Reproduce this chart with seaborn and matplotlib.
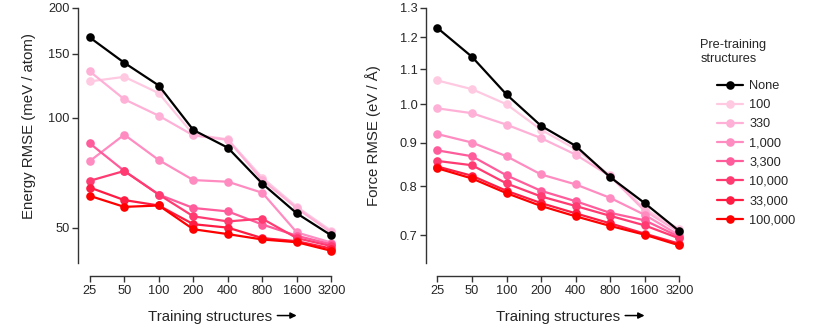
import numpy as np
import pandas as pd
import seaborn as sns
import matplotlib.pyplot as plt
from matplotlib.ticker import NullLocator, FixedLocator, FixedFormatter

# training set sizes (x axis)
train_sizes = [25, 50, 100, 200, 400, 800, 1600, 3200]

# pre-training structure counts (legend)
pretrain = ['None', '100', '330', '1,000', '3,300', '10,000', '33,000', '100,000']
colors = ['#000000', '#ffc9e1', '#ffb0d6', '#ff8cc1', '#ff5c9b', '#ff3b72', '#ff1b42', '#ff0000']

# energy RMSE (meV / atom)
energy_none = [166, 141.5, 122.6, 92.6, 82.8, 66.0, 54.7, 47.6]
energy_100 = [125.8, 129.5, 116.8, 90.0, 87.3, 68.5, 57.0, 49.0]
energy_330 = [134, 112.4, 101.3, 89.5, 87.0, 67.5, 56.5, 48.5]
energy_1k = [76.1, 89.9, 76.6, 67.5, 66.8, 62.3, 48.5, 45.5]
energy_3k = [85.1, 71.5, 61.6, 56.6, 55.4, 51.0, 47.5, 45.0]
energy_10k = [67.2, 71.5, 61.6, 53.7, 52.0, 52.9, 46.8, 44.5]
energy_33k = [64.4, 59.5, 57.5, 51.1, 50.0, 46.8, 45.9, 43.8]
energy_100k = [61.1, 57.0, 57.5, 49.5, 48.0, 46.4, 45.6, 43.2]

# force RMSE (eV / A)
force_none = [1.231, 1.138, 1.027, 0.943, 0.893, 0.820, 0.764, 0.708]
force_100 = [1.067, 1.042, 1.000, 0.933, 0.885, 0.824, 0.752, 0.712]
force_330 = [0.989, 0.976, 0.946, 0.912, 0.872, 0.822, 0.748, 0.706]
force_1k = [0.922, 0.901, 0.868, 0.826, 0.804, 0.775, 0.740, 0.700]
force_3k = [0.882, 0.868, 0.824, 0.790, 0.768, 0.744, 0.729, 0.697]
force_10k = [0.857, 0.847, 0.806, 0.778, 0.758, 0.738, 0.719, 0.694]
force_33k = [0.844, 0.823, 0.790, 0.764, 0.743, 0.723, 0.703, 0.684]
force_100k = [0.840, 0.817, 0.785, 0.758, 0.737, 0.718, 0.701, 0.681]

energy = [energy_none, energy_100, energy_330, energy_1k,
          energy_3k, energy_10k, energy_33k, energy_100k]
force = [force_none, force_100, force_330, force_1k,
         force_3k, force_10k, force_33k, force_100k]

rows = []
for name, e_vals, f_vals in zip(pretrain, energy, force):
    for n, e, f in zip(train_sizes, e_vals, f_vals):
        rows.append({'train': n, 'pretrain': name, 'energy': e, 'force': f})
df = pd.DataFrame(rows)

sns.set_style('ticks')
plt.rcParams['font.family'] = ['Liberation Sans', 'DejaVu Sans']

fig = plt.figure(figsize=(8.18, 3.27), dpi=100)
ax1 = fig.add_axes([0.0954, 0.1957, 0.324, 0.78])
ax2 = fig.add_axes([0.5204, 0.1957, 0.3243, 0.78])

palette = dict(zip(pretrain, colors))
# draw from lightest to darkest, 'None' last so it sits on top
draw_order = pretrain[1:] + pretrain[:1]

for ax, col in [(ax1, 'energy'), (ax2, 'force')]:
    sns.lineplot(data=df, x='train', y=col, hue='pretrain', hue_order=draw_order,
                 palette=palette, marker='o', markersize=6.2, markeredgewidth=0,
                 linewidth=1.6, ax=ax, legend=False)
    ax.set_xscale('log', base=2)
    ax.set_yscale('log')
    ax.set_xlim(25 / 2 ** 0.34, 3200 * 2 ** 0.34)
    ax.xaxis.set_major_locator(FixedLocator(train_sizes))
    ax.xaxis.set_major_formatter(FixedFormatter([str(n) for n in train_sizes]))
    ax.xaxis.set_minor_locator(NullLocator())
    ax.yaxis.set_minor_locator(NullLocator())
    ax.spines['top'].set_visible(False)
    ax.spines['right'].set_visible(False)
    ax.spines['bottom'].set_position(('outward', 9.5))
    ax.spines['bottom'].set_bounds(25, 3200)
    for s in ['left', 'bottom']:
        ax.spines[s].set_linewidth(1.0)
        ax.spines[s].set_color('#333333')
    ax.tick_params(axis='both', labelsize=9.2, length=4, width=1.0, color='#333333', pad=2)
    ax.set_xlabel('Training structures', fontsize=10.8, labelpad=9.5)
    # arrow after the x label
    ax.annotate('', xy=(0.825, -0.206), xytext=(0.752, -0.206),
                xycoords='axes fraction', textcoords='axes fraction',
                arrowprops=dict(arrowstyle='-|>', color='black', lw=1.1,
                                mutation_scale=9, shrinkA=0, shrinkB=0),
                annotation_clip=False)

ax1.set_ylim(40, 200)
ax1.yaxis.set_major_locator(FixedLocator([50, 100, 150, 200]))
ax1.yaxis.set_major_formatter(FixedFormatter(['50', '100', '150', '200']))
ax1.set_ylabel('Energy RMSE (meV / atom)', fontsize=10.8)
ax1.yaxis.set_label_coords(-0.158, 0.539)

fticks = [0.7, 0.8, 0.9, 1.0, 1.1, 1.2, 1.3]
ax2.set_ylim(0.649, 1.3)
ax2.yaxis.set_major_locator(FixedLocator(fticks))
ax2.yaxis.set_major_formatter(FixedFormatter([f'{t:.1f}' for t in fticks]))
ax2.set_ylabel('Force RMSE (eV / \u00c5)', fontsize=10.8)
ax2.yaxis.set_label_coords(-0.168, 0.5)

# legend in the original order
handles = [plt.Line2D([], [], color=c, marker='o', markersize=6.2, markeredgewidth=0,
                      linewidth=1.6) for c in colors]
fig.text(0.856, 0.841, 'Pre-training\nstructures', fontsize=9.2, ha='left', va='center',
         linespacing=1.3)
fig.legend(handles, pretrain, loc='upper left', bbox_to_anchor=(0.876, 0.755),
           frameon=False, fontsize=9.2, handlelength=2.1, handletextpad=0.45,
           labelspacing=0.56, borderaxespad=0, borderpad=0)

fig.savefig('out.png', dpi=100)
